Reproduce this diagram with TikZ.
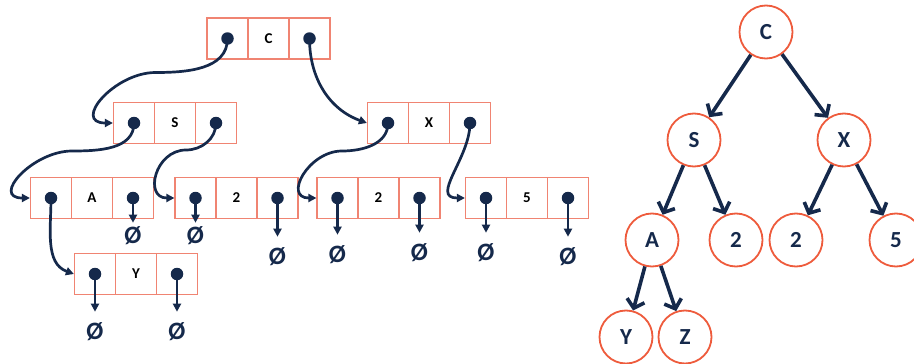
\documentclass[tikz,border=0pt]{standalone}
\usepackage{fontspec}
\setmainfont{Carlito}
\usepackage{tikz}
\usetikzlibrary{arrows.meta,matrix,positioning}
\definecolor{navy}{HTML}{15294B}
\definecolor{coral}{HTML}{EE5B3C}
\definecolor{cell}{HTML}{F08472}
\tikzset{
  link/.style={draw=navy, line width=2.7pt, line cap=round, -{Triangle[length=8pt,width=8pt]}},
  nilptr/.style={link, shorten >=11pt},
  edge/.style={draw=navy, line width=3.6pt, -{Straight Barb[length=8pt,width=18pt]}},
  dot/.style={circle, fill=navy, inner sep=0pt, minimum size=12.5pt},
  nil/.style={text=navy, font=\fontsize{25}{25}\selectfont\bfseries, inner sep=0pt},
  tnode/.style={circle, draw=coral, line width=1.8pt, fill=white, minimum size=53pt, inner sep=0pt, text=navy, font=\fontsize{23}{23}\selectfont\bfseries},
  rec/.style={matrix of nodes, nodes in empty cells, inner sep=0pt, column sep=-1.2pt,
    nodes={draw=cell, line width=1.2pt, anchor=center, minimum width=41pt, minimum height=41pt, inner sep=0pt, font=\fontsize{15}{15}\selectfont\bfseries}},
}
\begin{document}
\begin{tikzpicture}[x=1pt,y=1pt]
\useasboundingbox (0,0) rectangle (914,-364);
% linked records
\matrix[rec] (rc) at (268.5,-38.5) { & C & \\ };
\matrix[rec] (rs) at (175,-123) { & S & \\ };
\matrix[rec] (rx) at (429,-123) { & X & \\ };
\matrix[rec] (ra) at (92,-198) { & A & \\ };
\matrix[rec] (r2) at (236.5,-198) { & 2 & \\ };
\matrix[rec] (rb) at (378.5,-198) { & 2 & \\ };
\matrix[rec] (r5) at (527,-198) { & 5 & \\ };
\matrix[rec] (ry) at (136,-274) { & Y & \\ };
\foreach \r in {rc,rs,rx,ra,r2,rb,r5,ry} {
  \node[dot] (\r-dl) at (\r-1-1) {};
  \node[dot] (\r-dr) at (\r-1-3) {};
}
\draw[link] (rc-dl.center) to[out=-90,in=0] ++(-72,-34) to[out=180,in=180,looseness=1.6] (rs-1-1.west);
\draw[link] (rc-dr.center) to[out=-90,in=160] (rx-1-1.west);
\draw[link] (rs-dl.center) to[out=-90,in=0] ++(-62,-28) to[out=180,in=180,looseness=1.6] (ra-1-1.west);
\draw[link] (rs-dr.center) to[out=-90,in=0] ++(-30,-27) to[out=180,in=180,looseness=1.6] (r2-1-1.west);
\draw[link] (rx-dl.center) to[out=-90,in=0] ++(-46,-28) to[out=180,in=180,looseness=1.6] (rb-1-1.west);
\draw[link] (rx-dr.center) to[out=-90,in=180,looseness=1.2] (r5-1-1.west);
\draw[link] (ra-dl.center) to[out=-90,in=160] (ry-1-1.west);
% null pointers
\node[nil] (na) at (ra-1-3 |- 0,-236) {Ø};
\node[nil] (n2l) at (r2-1-1 |- 0,-236) {Ø};
\node[nil] (n2r) at (r2-1-3 |- 0,-257) {Ø};
\node[nil] (nbl) at (rb-1-1 |- 0,-255) {Ø};
\node[nil] (nbr) at (rb-1-3 |- 0,-253) {Ø};
\node[nil] (n5l) at (r5-1-1 |- 0,-253) {Ø};
\node[nil] (n5r) at (r5-1-3 |- 0,-257) {Ø};
\node[nil] (nyl) at (ry-1-1 |- 0,-332) {Ø};
\node[nil] (nyr) at (ry-1-3 |- 0,-332) {Ø};
\draw[nilptr, shorten >=4pt] (ra-dr.center) -- (na.north);
\draw[nilptr, shorten >=4pt] (r2-dl.center) -- (n2l.north);
\foreach \d/\n in {r2-dr/n2r, rb-dl/nbl, rb-dr/nbr, r5-dl/n5l, r5-dr/n5r, ry-dl/nyl, ry-dr/nyr}
  \draw[nilptr] (\d.center) -- (\n.north);
% tree
\node[tnode] (tc) at (766,-32) {C};
\node[tnode] (ts) at (694,-140) {S};
\node[tnode] (tx) at (844,-140) {X};
\node[tnode] (ta) at (652,-240) {A};
\node[tnode] (t2) at (736,-240) {2};
\node[tnode] (tb) at (796,-240) {2};
\node[tnode] (t5) at (896,-240) {5};
\node[tnode] (ty) at (626,-337) {Y};
\node[tnode] (tz) at (685,-337) {Z};
\foreach \a/\b in {tc/ts, tc/tx, ts/ta, ts/t2, tx/tb, tx/t5, ta/ty, ta/tz}
  \draw[edge] (\a) -- (\b);
\end{tikzpicture}
\end{document}
